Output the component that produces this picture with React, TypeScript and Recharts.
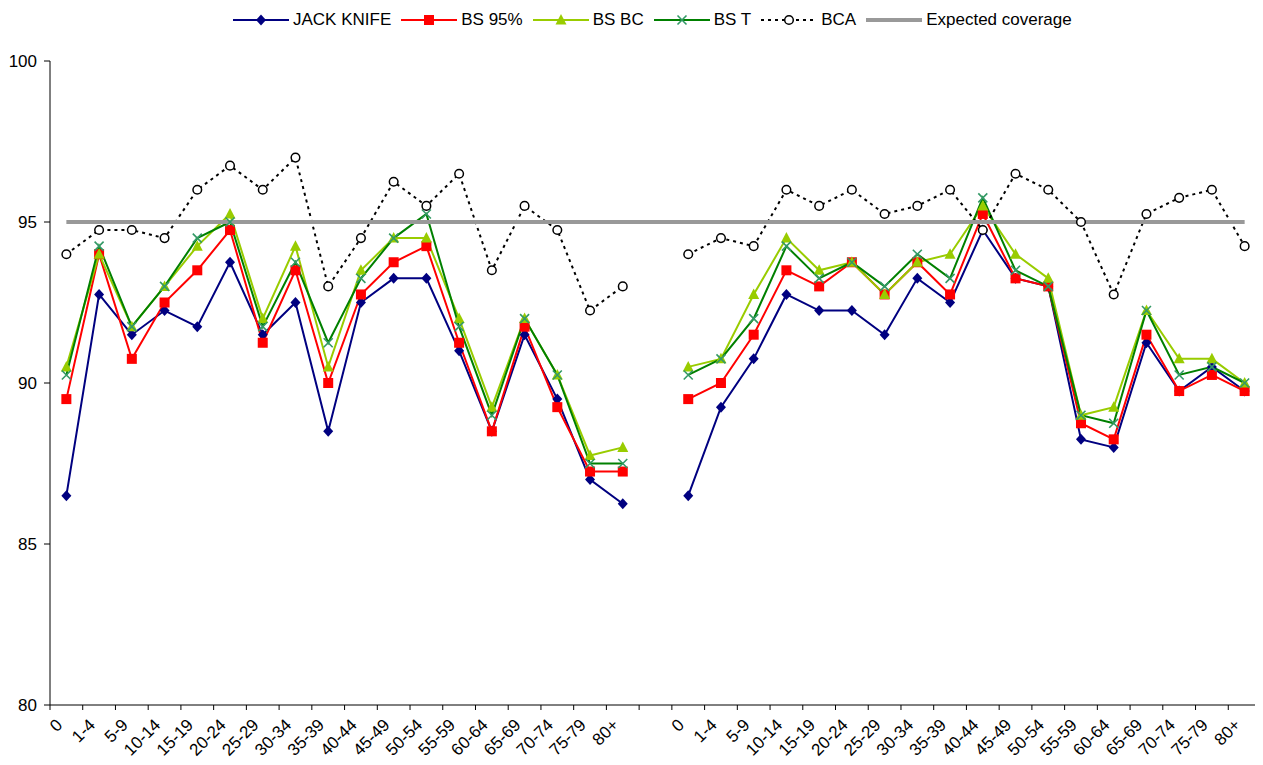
import React from 'react';
import { LineChart, Line, XAxis, YAxis, Legend } from 'recharts';

const ageGroups = ['0', '1-4', '5-9', '10-14', '15-19', '20-24', '25-29', '30-34', '35-39', '40-44', '45-49', '50-54', '55-59', '60-64', '65-69', '70-74', '75-79', '80+'];

// first panel (left) and second panel (right)
const jackKnifeA = [86.5, 92.75, 91.5, 92.25, 91.75, 93.75, 91.5, 92.5, 88.5, 92.5, 93.25, 93.25, 91.0, 88.5, 91.5, 89.5, 87.0, 86.25];
const jackKnifeB = [86.5, 89.25, 90.75, 92.75, 92.25, 92.25, 91.5, 93.25, 92.5, 94.75, 93.25, 93.0, 88.25, 88.0, 91.25, 89.75, 90.5, 89.75];
const bs95A = [89.5, 94.0, 90.75, 92.5, 93.5, 94.75, 91.25, 93.5, 90.0, 92.75, 93.75, 94.25, 91.25, 88.5, 91.75, 89.25, 87.25, 87.25];
const bs95B = [89.5, 90.0, 91.5, 93.5, 93.0, 93.75, 92.75, 93.75, 92.75, 95.25, 93.25, 93.0, 88.75, 88.25, 91.5, 89.75, 90.25, 89.75];
const bsBcA = [90.5, 94.0, 91.75, 93.0, 94.25, 95.25, 92.0, 94.25, 90.5, 93.5, 94.5, 94.5, 92.0, 89.25, 92.0, 90.25, 87.75, 88.0];
const bsBcB = [90.5, 90.75, 92.75, 94.5, 93.5, 93.75, 92.75, 93.75, 94.0, 95.5, 94.0, 93.25, 89.0, 89.25, 92.25, 90.75, 90.75, 90.0];
const bsTA = [90.25, 94.25, 91.75, 93.0, 94.5, 95.0, 91.75, 93.75, 91.25, 93.25, 94.5, 95.25, 91.75, 89.0, 92.0, 90.25, 87.5, 87.5];
const bsTB = [90.25, 90.75, 92.0, 94.25, 93.25, 93.75, 93.0, 94.0, 93.25, 95.75, 93.5, 93.0, 89.0, 88.75, 92.25, 90.25, 90.5, 90.0];
const bcaA = [94.0, 94.75, 94.75, 94.5, 96.0, 96.75, 96.0, 97.0, 93.0, 94.5, 96.25, 95.5, 96.5, 93.5, 95.5, 94.75, 92.25, 93.0];
const bcaB = [94.0, 94.5, 94.25, 96.0, 95.5, 96.0, 95.25, 95.5, 96.0, 94.75, 96.5, 96.0, 95.0, 92.75, 95.25, 95.75, 96.0, 94.25];
const expectedCoverage = [95, 95, 95, 95, 95, 95, 95, 95, 95, 95, 95, 95, 95, 95, 95, 95, 95, 95, 95, 95, 95, 95, 95, 95, 95, 95, 95, 95, 95, 95, 95, 95, 95, 95, 95, 95, 95];
const yTicks = [80, 85, 90, 95, 100];

const FONT = "Arial, 'Liberation Sans', sans-serif";
const NAVY = '#000080';
const RED = '#FF0000';
const LIME = '#99CC00';
const GREEN = '#008000';
const TEAL = '#339966';
const GREY = '#999999';

type Row = { x: number; label: string; jk?: number; bs95?: number; bsbc?: number; bst?: number; bca?: number; expected: number };

const rows: Row[] = [];
ageGroups.forEach((g, i) => {
  rows.push({ x: i + 0.5, label: g, jk: jackKnifeA[i], bs95: bs95A[i], bsbc: bsBcA[i], bst: bsTA[i], bca: bcaA[i], expected: expectedCoverage[i] });
});
rows.push({ x: 18.5, label: '', expected: expectedCoverage[18] });
ageGroups.forEach((g, i) => {
  rows.push({ x: 19.5 + i, label: g, jk: jackKnifeB[i], bs95: bs95B[i], bsbc: bsBcB[i], bst: bsTB[i], bca: bcaB[i], expected: expectedCoverage[19 + i] });
});

const labelTicks = rows.map((r) => r.x);
const boundaryTicks = Array.from({ length: rows.length + 1 }, (_, i) => i);

const marker = (kind: string, cx: number, cy: number, key?: any) => {
  if (kind === 'diamond') {
    return <path key={key} d={`M${cx},${cy - 5.5}L${cx + 5},${cy}L${cx},${cy + 5.5}L${cx - 5},${cy}Z`} fill={NAVY} />;
  }
  if (kind === 'square') {
    return <rect key={key} x={cx - 5} y={cy - 5} width={10} height={10} fill={RED} />;
  }
  if (kind === 'triangle') {
    return <path key={key} d={`M${cx},${cy - 6}L${cx + 5.5},${cy + 4.5}L${cx - 5.5},${cy + 4.5}Z`} fill={LIME} />;
  }
  if (kind === 'cross') {
    return (
      <path key={key} d={`M${cx - 4.5},${cy - 4.5}L${cx + 4.5},${cy + 4.5}M${cx + 4.5},${cy - 4.5}L${cx - 4.5},${cy + 4.5}`} stroke={TEAL} strokeWidth={1.6} fill="none" />
    );
  }
  return <circle key={key} cx={cx} cy={cy} r={4.3} fill="#fff" stroke="#000" strokeWidth={1.5} />;
};

const dotFor = (kind: string) => (p: any) => {
  if (p.cy == null || p.cx == null || p.value == null || Number.isNaN(p.cy)) return <g key={p.index} />;
  return marker(kind, p.cx, p.cy, p.index);
};

const AgeTick = (props: any) => {
  const { x, y, payload } = props;
  const text = rows[Math.floor(payload.value)]?.label ?? '';
  return (
    <g transform={`translate(${x - 3},${y + 12})`}>
      <text transform="rotate(-45)" textAnchor="end" x={0} y={0} fontSize={17} fontFamily={FONT} fill="#000">
        {text}
      </text>
    </g>
  );
};

const legendItems = [
  { name: 'JACK KNIFE', color: NAVY, kind: 'diamond', dash: undefined, width: 2 },
  { name: 'BS 95%', color: RED, kind: 'square', dash: undefined, width: 2 },
  { name: 'BS BC', color: LIME, kind: 'triangle', dash: undefined, width: 2 },
  { name: 'BS T', color: GREEN, kind: 'cross', dash: undefined, width: 2 },
  { name: 'BCA', color: '#000', kind: 'circle', dash: '3 4', width: 2 },
  { name: 'Expected coverage', color: GREY, kind: '', dash: undefined, width: 4 },
];

const LegendContent = () => (
  <div style={{ display: 'flex', alignItems: 'center', height: 24, fontFamily: FONT, fontSize: 17, color: '#000', whiteSpace: 'nowrap' }}>
    {legendItems.map((it) => (
      <div key={it.name} style={{ display: 'flex', alignItems: 'center', marginRight: 10 }}>
        <svg width={56} height={20}>
          <line x1={0} y1={10} x2={56} y2={10} stroke={it.color} strokeWidth={it.width} strokeDasharray={it.dash} />
          {it.kind ? marker(it.kind, 28, 10) : null}
        </svg>
        <span style={{ marginLeft: 4 }}>{it.name}</span>
      </div>
    ))}
  </div>
);

export default function App() {
  return (
    <div style={{ fontFamily: FONT }}>
      <LineChart width={1255} height={757} data={rows} margin={{ top: 29, right: 2, bottom: 2, left: 0 }}>
        <Legend verticalAlign="top" content={<LegendContent />} wrapperStyle={{ top: 0, left: 225, width: 900, height: 24 }} />
        <XAxis
          xAxisId="grid"
          type="number"
          dataKey="x"
          domain={[0, 37]}
          ticks={boundaryTicks}
          interval={0}
          height={1}
          tickSize={5}
          tickFormatter={() => ''}
          tick={{ fontSize: 1 }}
          axisLine={{ stroke: '#000', strokeWidth: 1 }}
          tickLine={{ stroke: '#000', strokeWidth: 1 }}
        />
        <XAxis
          xAxisId="labels"
          type="number"
          dataKey="x"
          domain={[0, 37]}
          ticks={labelTicks}
          interval={0}
          height={57}
          axisLine={false}
          tickLine={false}
          tick={<AgeTick />}
        />
        <YAxis
          type="number"
          domain={[80, 100]}
          ticks={yTicks}
          interval={0}
          width={42}
          tickSize={6}
          tickMargin={7}
          axisLine={{ stroke: '#000' }}
          tickLine={{ stroke: '#000' }}
          tick={{ fill: '#000', fontSize: 17, fontFamily: FONT }}
        />
        <Line xAxisId="grid" dataKey="jk" name="JACK KNIFE" stroke={NAVY} strokeWidth={2} dot={dotFor('diamond')} activeDot={false} isAnimationActive={false} />
        <Line xAxisId="grid" dataKey="bs95" name="BS 95%" stroke={RED} strokeWidth={2} dot={dotFor('square')} activeDot={false} isAnimationActive={false} />
        <Line xAxisId="grid" dataKey="bsbc" name="BS BC" stroke={LIME} strokeWidth={2} dot={dotFor('triangle')} activeDot={false} isAnimationActive={false} />
        <Line xAxisId="grid" dataKey="bst" name="BS T" stroke={GREEN} strokeWidth={2} dot={dotFor('cross')} activeDot={false} isAnimationActive={false} />
        <Line xAxisId="grid" dataKey="bca" name="BCA" stroke="#000" strokeWidth={2} strokeDasharray="3 4" dot={dotFor('circle')} activeDot={false} isAnimationActive={false} />
        <Line xAxisId="grid" dataKey="expected" name="Expected coverage" stroke={GREY} strokeWidth={4} dot={false} activeDot={false} isAnimationActive={false} />
      </LineChart>
    </div>
  );
}
